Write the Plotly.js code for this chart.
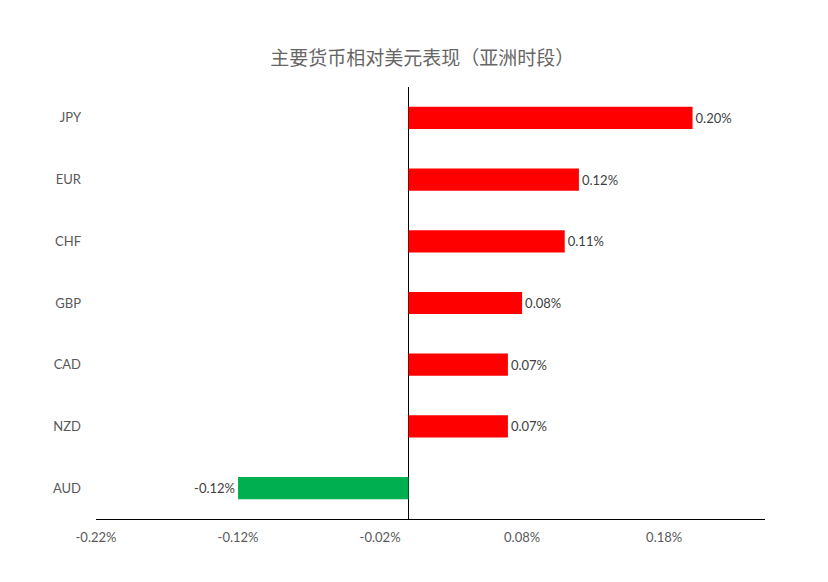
<!DOCTYPE html>
<html>
<head>
<meta charset="utf-8">
<script src="https://cdn.plot.ly/plotly-3.0.1.min.js"></script>
<style>
  html, body { margin: 0; padding: 0; background: #fff; }
  #myDiv { width: 828px; height: 582px; }
</style>
</head>
<body>
<div id="myDiv"></div>
<script>
// monedas, de abajo hacia arriba (orden del eje y)
const monedas = ['AUD', 'NZD', 'CAD', 'GBP', 'CHF', 'EUR', 'JPY'];
const cambios = [-0.12, 0.07, 0.07, 0.08, 0.11, 0.12, 0.20];
const ticksX = [-0.22, -0.12, -0.02, 0.08, 0.18];
const ticksXTexto = ['-0.22%', '-0.12%', '-0.02%', '0.08%', '0.18%'];

const colores = cambios.map(v => v < 0 ? '#00B050' : '#FF0000');
const etiquetas = cambios.map(v => v.toFixed(2) + '%');

const barras = {
  x: cambios,
  y: monedas,
  type: 'bar',
  orientation: 'h',
  marker: { color: colores },
  text: etiquetas,
  textposition: 'outside',
  cliponaxis: false,
  textfont: { family: 'Lato, "Open Sans", sans-serif', size: 13, color: '#404040' },
  hoverinfo: 'x+y'
};

var layout = {
  width: 828,
  height: 582,
  margin: { l: 96, r: 63, t: 87, b: 63 },
  paper_bgcolor: '#fff',
  plot_bgcolor: '#fff',
  showlegend: false,
  bargap: 0.64,
  font: { family: 'Lato, "Open Sans", sans-serif', size: 13, color: '#595959' },
  title: {
    text: '主要货币相对美元表现（亚洲时段）',
    font: { family: '"Noto Sans CJK SC", sans-serif', size: 19, color: '#666666' },
    x: 0.51,
    xanchor: 'center',
    y: 0.9,
    yanchor: 'middle'
  },
  xaxis: {
    range: [-0.22, 0.251],
    tickvals: ticksX,
    ticktext: ticksXTexto,
    showgrid: false,
    zeroline: true,
    zerolinecolor: '#000',
    zerolinewidth: 1,
    showline: true,
    linecolor: '#000',
    linewidth: 1,
    ticks: '',
    ticklabelstandoff: 6,
    fixedrange: true
  },
  yaxis: {
    showgrid: false,
    showline: false,
    zeroline: false,
    ticks: '',
    ticklabelstandoff: 14,
    fixedrange: true
  }
};

Plotly.newPlot('myDiv', [barras], layout, { displayModeBar: false });
</script>
</body>
</html>
